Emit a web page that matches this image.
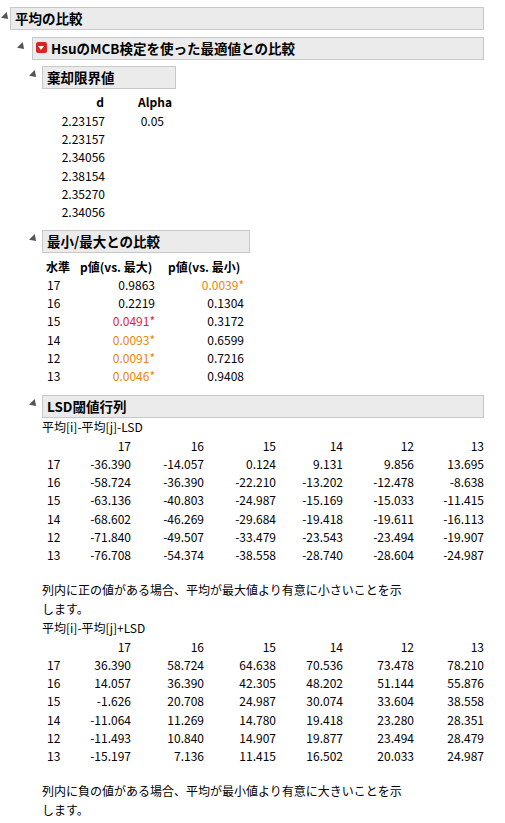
<!DOCTYPE html>
<html><head><meta charset="utf-8">
<script src="https://cdn.jsdelivr.net/npm/chart.js@4"></script>
<style>
body{margin:0;background:#fff;font-family:"Noto Sans CJK JP","Noto Sans",sans-serif;font-size:12px;color:#000;width:505px;height:823px;position:relative;overflow:hidden}
.a{position:absolute;white-space:nowrap;line-height:16px}
.hd{position:absolute;background:#ebebeb;border:1px solid #c8c8c8;font-weight:bold;font-size:13.5px;line-height:21px;padding-left:4px;box-sizing:border-box}
.tri{position:absolute;width:0;height:0;border-left:4px solid transparent;border-right:4px solid transparent;border-top:6px solid #555;transform:rotate(-45deg)}
.r{text-align:right}
.b{font-weight:bold}
.red{color:#e0203c}.org{color:#e8840c}
</style></head><body>
<script>
var critD = ["2.23157","2.23157","2.34056","2.38154","2.35270","2.34056"];
var alpha = "0.05";
var levels = ["17","16","15","14","12","13"];
var pMax = ["0.9863","0.2219","0.0491","0.0093","0.0091","0.0046"];
var pMaxCls = ["","","red","org","org","org"];
var pMin = ["0.0039","0.1304","0.3172","0.6599","0.7216","0.9408"];
var pMinCls = ["org","","","","",""];
var lsdMinus = [
 ["-36.390","-14.057","0.124","9.131","9.856","13.695"],
 ["-58.724","-36.390","-22.210","-13.202","-12.478","-8.638"],
 ["-63.136","-40.803","-24.987","-15.169","-15.033","-11.415"],
 ["-68.602","-46.269","-29.684","-19.418","-19.611","-16.113"],
 ["-71.840","-49.507","-33.479","-23.543","-23.494","-19.907"],
 ["-76.708","-54.374","-38.558","-28.740","-28.604","-24.987"]];
var lsdPlus = [
 ["36.390","58.724","64.638","70.536","73.478","78.210"],
 ["14.057","36.390","42.305","48.202","51.144","55.876"],
 ["-1.626","20.708","24.987","30.074","33.604","38.558"],
 ["-11.064","11.269","14.780","19.418","23.280","28.351"],
 ["-11.493","10.840","14.907","19.877","23.494","28.479"],
 ["-15.197","7.136","11.415","16.502","20.033","24.987"]];

function txt(s, x, y, cls, right){
  var d=document.createElement("div");d.className="a "+(cls||"");
  d.textContent=s;d.style.top=y+"px";
  if(right){d.style.right=(505-x)+"px";}else d.style.left=x+"px";
  document.body.appendChild(d);return d;
}
function hdr(s,x,y,w){var d=document.createElement("div");d.className="hd";d.textContent=s;
  d.style.left=x+"px";d.style.top=y+"px";d.style.width=w+"px";d.style.height="23px";document.body.appendChild(d);}
function tri(x,y){var d=document.createElement("div");d.className="tri";d.style.left=x+"px";d.style.top=y+"px";document.body.appendChild(d);}

tri(2,14);hdr("平均の比較",10,7,474);
tri(18,44);hdr("HsuのMCB検定を使った最適値との比較",32,37,452);
var ic=document.createElement("div");ic.style.cssText="position:absolute;left:36px;top:42px;width:11px;height:11px;background:#d22;border-radius:2px";
ic.innerHTML='<div style="margin:4px 2px;width:0;height:0;border-left:3.5px solid transparent;border-right:3.5px solid transparent;border-top:4px solid #fff"></div>';
document.body.appendChild(ic);
document.querySelectorAll(".hd")[1].style.paddingLeft="18px";

tri(30,72);hdr("棄却限界値",42,66,134);
txt("d",104,94,"b",true);txt("Alpha",172,94,"b",true);
critD.forEach(function(v,i){txt(v,105,113+i*18.2,"",true);});
txt(alpha,164,113,"",true);

tri(30,236);hdr("最小/最大との比較",42,230,208);
txt("水準",46,259,"b");txt("p値(vs. 最大)",80,259,"b");txt("p値(vs. 最小)",168,259,"b");
levels.forEach(function(l,i){var y=277+i*18.2;txt(l,47,y);
  txt(pMax[i]+(pMaxCls[i]?"*":""),155,y,pMaxCls[i],true);
  txt(pMin[i]+(pMinCls[i]?"*":""),244,y,pMinCls[i],true);});

tri(30,401);hdr("LSD閾値行列",42,395,442);
var colR=[131,204,276,343,414,484];
function matrix(title,data,y0){
  txt(title,42,y0);
  levels.forEach(function(l,j){txt(l,colR[j],y0+19,"",true);});
  data.forEach(function(row,i){var y=y0+37+i*18.2;txt(levels[i],47,y);
    row.forEach(function(v,j){txt(v,colR[j],y,"",true);});});
}
matrix("平均[i]-平均[j]-LSD",lsdMinus,419);
txt("列内に正の値がある場合、平均が最大値より有意に小さいことを示",42,582);txt("します。",42,601);
matrix("平均[i]-平均[j]+LSD",lsdPlus,620);
txt("列内に負の値がある場合、平均が最小値より有意に大きいことを示",42,783);txt("します。",42,802);
</script>
</body></html>
